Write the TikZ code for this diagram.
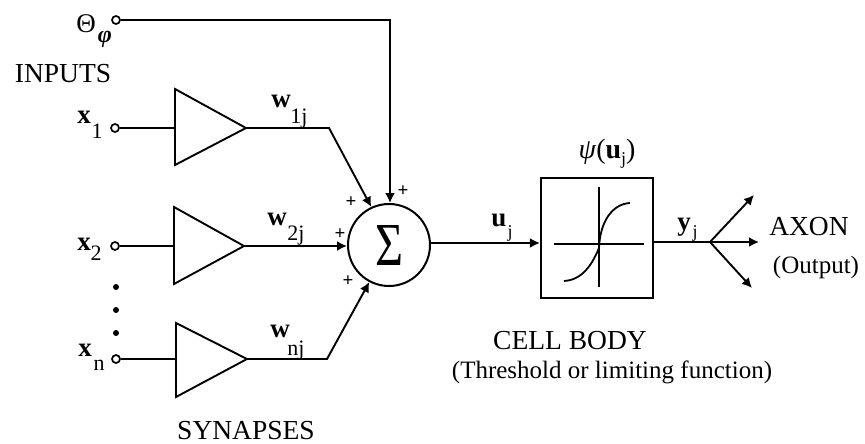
\documentclass[tikz,border=0pt]{standalone}
\usepackage{graphicx}
\usepackage{fontspec}
\setmainfont{Liberation Serif}
\usetikzlibrary{arrows.meta}
\tikzset{
  wire/.style={line width=1.9pt,line join=miter},
  arrow/.style={wire,-{Latex[length=10pt,width=10pt]}},
  term/.style={circle,draw,line width=1.7pt,fill=white,inner sep=0pt,minimum size=8pt},
  tri/.style={line width=1.9pt,line join=miter},
  lab/.style={inner sep=0pt,font=\fontsize{27.5}{29}\selectfont},
  small/.style={inner sep=0pt,font=\fontsize{25}{27}\selectfont},
  var/.style={inner sep=0pt,font=\fontsize{27}{28}\bfseries\selectfont},
  sub/.style={inner sep=0pt,font=\fontsize{22}{24}\selectfont},
  subj/.style={inner sep=0pt,font=\fontsize{18}{20}\selectfont},
  plus/.style={inner sep=0pt,font=\fontsize{19}{19}\bfseries\selectfont},
}
\begin{document}
\begin{tikzpicture}[x=1pt,y=-1pt]
\useasboundingbox (0,0) rectangle (865,444);
% terminals
\node[term] (t0) at (116,20) {};
\node[term] (x1) at (115,128) {};
\node[term] (x2) at (115,246) {};
\node[term] (xn) at (116,359) {};
% triangles
\coordinate (a1) at (175,128); \coordinate (b1) at (246,128);
\coordinate (a2) at (174,246); \coordinate (b2) at (244,246);
\coordinate (a3) at (176,359); \coordinate (b3) at (247,359);
\draw[tri] (175,89) -- (b1) -- (175,165) -- cycle;
\draw[tri] (174,207) -- (b2) -- (174,284) -- cycle;
\draw[tri] (176,323) -- (b3) -- (176,397) -- cycle;
\draw[wire] (x1) -- (a1);
\draw[wire] (x2) -- (a2);
\draw[wire] (xn) -- (a3);
% summation
\node[circle,draw,line width=2pt,minimum size=82pt,inner sep=0pt] (sum) at (389,245) {\resizebox{28pt}{40pt}{Σ}};
% box
\node[draw,line width=2.2pt,minimum width=112pt,minimum height=120pt,inner sep=0pt] (box) at (597,238) {};
\coordinate (k1) at (329,128);
\coordinate (kn) at (327,359);
\coordinate (k0) at (390,20);
\draw[arrow] (b1) -- (k1) -- (sum.115);
\draw[arrow] (b2) -- (sum.west |- b2);
\draw[arrow] (b3) -- (kn) -- (sum.242);
\draw[arrow] (t0) -- (k0) -- (sum.north -| k0);
\coordinate (uin) at (box.west |- 0,243);
\draw[arrow] (sum.east |- 0,243) -- (uin);
% transfer function
\draw[line width=1.9pt] (599,187) -- (599,287);
\draw[line width=1.9pt] (554,244) -- (644,244);
\draw[line width=1.8pt] (564,281) .. controls (582,280) and (592,265) .. (599,248)
  .. controls (600,222) and (612,204) .. (630,203);
% axon
\coordinate (hub) at (710,242);
\coordinate (o1) at (754,195);
\coordinate (o2) at (759,242);
\coordinate (o3) at (752,288);
\draw[wire] (box.east |- hub) -- (hub);
\draw[arrow] (hub) -- (o1);
\draw[arrow] (hub) -- (o2);
\draw[arrow] (hub) -- (o3);
% dots
\foreach \yy in {287,310,333}
  \fill (116,\yy) circle (3pt);
% labels
\node[lab,anchor=base] (inp) at (63,83) {INPUTS};
\node[lab,anchor=base] (syn) at (246,439) {SYNAPSES};
\node[lab,anchor=base] (cell) at (570,349) {CELL BODY};
\node[small,anchor=base] (thr) at (612,378) {(Threshold or limiting function)};
\node[lab,anchor=base] (axon) at (809,235) {AXON};
\node[small,anchor=base] (outp) at (816,273) {(Output)};
\node[var,anchor=base,font=\fontsize{27}{28}\selectfont] (th) at (86,33) {Θ};
\node[sub,anchor=base,font=\fontsize{24}{26}\itshape\bfseries\selectfont] (ph) at (105,43) {φ};
\node[var,anchor=base] at (84,123) {x};
\node[sub,anchor=base] at (97,138) {1};
\node[var,anchor=base] at (84,250) {x};
\node[sub,anchor=base] at (96,260) {2};
\node[var,anchor=base] at (85,356) {x};
\node[sub,anchor=base] at (99,370) {n};
\node[var,anchor=base] at (281,107) {w};
\node[sub,anchor=base] at (299,123) {1j};
\node[var,anchor=base] at (277,225) {w};
\node[sub,anchor=base] at (296,240) {2j};
\node[var,anchor=base] at (280,337) {w};
\node[sub,anchor=base] at (296,355) {nj};
\node[var,anchor=base] at (499,226) {u};
\node[subj,anchor=base] at (510,237) {j};
\node[var,anchor=base] at (684,230) {y};
\node[subj,anchor=base] at (695,237) {j};
\node[var,anchor=base,font=\fontsize{28}{30}\selectfont] at (607,158) {\textit{ψ}(\textbf{u}\raisebox{-6pt}{\fontsize{18}{20}\selectfont j})};
% plus signs
\node[plus] at (351,202) {+};
\node[plus] at (340,234) {+};
\node[plus] at (348,281) {+};
\node[plus] at (403,191) {+};
\end{tikzpicture}
\end{document}
